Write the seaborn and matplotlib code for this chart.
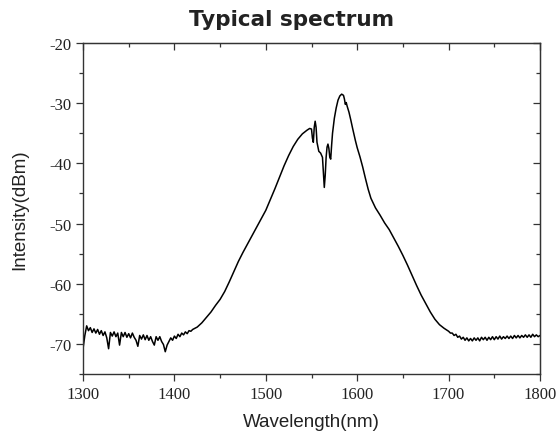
import numpy as np
import pandas as pd
import seaborn as sns
from matplotlib import pyplot as plt
from matplotlib.ticker import MultipleLocator

# 光谱数据
# 左侧噪声基底 1300-1420 nm, 步长 2 nm
wl_left = list(range(1300, 1421, 2))
db_left = [-70.8, -68.6, -67.0, -67.8, -67.3, -68.1, -67.5, -68.2, -67.6, -68.4,
           -67.8, -68.6, -68.0, -69.0, -70.8, -68.1, -68.7, -68.0, -68.8, -68.2,
           -70.2, -68.1, -68.8, -68.1, -68.9, -68.3, -69.0, -68.2, -68.9, -69.4,
           -70.4, -68.6, -69.2, -68.5, -69.3, -68.6, -69.4, -68.8, -69.6, -70.2,
           -68.8, -69.4, -68.8, -69.6, -70.1, -71.3, -70.2, -69.6, -69.0, -69.4,
           -68.7, -69.1, -68.4, -68.8, -68.2, -68.5, -68.0, -68.3, -67.8, -67.9,
           -67.6]

# 主峰部分
wl_mid = [1425, 1430, 1435, 1440, 1445, 1450, 1455, 1460, 1465, 1470,
          1475, 1480, 1485, 1490, 1495, 1500, 1505, 1510, 1515, 1520,
          1525, 1530, 1535, 1540, 1545, 1548, 1550, 1551, 1552, 1553,
          1554, 1555, 1556, 1558, 1560, 1562, 1563, 1564, 1565, 1566,
          1567, 1568, 1569, 1570, 1571, 1572, 1573, 1575, 1577, 1579,
          1581, 1583, 1585, 1586, 1587, 1588, 1589, 1591, 1593, 1595,
          1598, 1600, 1603, 1606, 1609, 1612, 1615, 1620, 1625, 1630,
          1635, 1640, 1645, 1650, 1655, 1660, 1665, 1670, 1675, 1680,
          1685, 1690, 1695]
db_mid = [-67.2, -66.5, -65.6, -64.7, -63.6, -62.6, -61.3, -59.7, -58.0, -56.3,
          -54.8, -53.4, -52.0, -50.6, -49.2, -47.8, -46.0, -44.2, -42.3, -40.4,
          -38.7, -37.2, -36.0, -35.1, -34.5, -34.2, -34.3, -35.8, -36.5, -34.0,
          -33.0, -34.0, -36.5, -38.0, -38.3, -39.0, -41.5, -44.0, -42.0, -39.0,
          -37.3, -36.8, -37.5, -39.0, -39.3, -37.0, -35.0, -32.5, -30.8, -29.5,
          -28.8, -28.5, -28.7, -29.3, -30.2, -29.9, -30.5, -31.5, -32.8, -34.2,
          -36.2, -37.4, -38.9, -40.6, -42.5, -44.3, -45.8, -47.4, -48.6, -49.9,
          -51.0, -52.4, -53.8, -55.3, -56.9, -58.6, -60.3, -61.9, -63.3, -64.7,
          -65.9, -66.8, -67.4]

# 右侧噪声基底 1700-1800 nm, 步长 2 nm
wl_right = list(range(1700, 1801, 2))
db_right = [-67.9, -68.2, -68.2, -68.6, -68.4, -68.9, -68.7, -69.2, -68.9, -69.4,
            -69.0, -69.5, -69.1, -69.5, -69.0, -69.4, -69.0, -69.5, -68.9, -69.3,
            -68.9, -69.4, -68.9, -69.3, -68.8, -69.3, -68.8, -69.2, -68.7, -69.2,
            -68.8, -69.1, -68.7, -69.1, -68.7, -69.1, -68.6, -69.0, -68.6, -69.0,
            -68.6, -68.9, -68.5, -68.9, -68.5, -68.9, -68.4, -68.8, -68.5, -68.8,
            -68.6]

x_ticks = [1300, 1400, 1500, 1600, 1700, 1800]
y_ticks = [-70, -60, -50, -40, -30, -20]

data = pd.DataFrame({'wavelength': wl_left + wl_mid + wl_right,
                     'intensity': db_left + db_mid + db_right})

sns.set_style('ticks')
plt.rcParams['axes.unicode_minus'] = False
fig = plt.figure(figsize=(5.59, 4.39), dpi=100)
ax = fig.add_axes([0.1485, 0.1458, 0.8175, 0.754])

sns.lineplot(data=data, x='wavelength', y='intensity', color='black', lw=1.1,
             estimator=None, sort=False, ax=ax)

ax.set_xlim(1300, 1800)
ax.set_ylim(-75, -20)
ax.set_xticks(x_ticks)
ax.set_yticks(y_ticks)
ax.xaxis.set_minor_locator(MultipleLocator(50))
ax.yaxis.set_minor_locator(MultipleLocator(5))
ax.tick_params(which='major', direction='out', length=5, width=0.9, color='#333333')
ax.tick_params(which='minor', direction='out', length=3, width=0.9, color='#333333')
for lab in ax.get_xticklabels() + ax.get_yticklabels():
    lab.set_fontfamily('Liberation Serif')
    lab.set_fontsize(12)
    lab.set_color('#222222')
for s in ax.spines.values():
    s.set_visible(True)
    s.set_linewidth(1.0)
    s.set_color('#333333')

# 上、右两边的刻度向内
top = ax.secondary_xaxis('top')
top.set_xticks(x_ticks)
top.xaxis.set_minor_locator(MultipleLocator(50))
top.tick_params(which='major', direction='in', length=5, width=0.9, color='#333333', labeltop=False)
top.tick_params(which='minor', direction='in', length=3, width=0.9, color='#333333')
right = ax.secondary_yaxis('right')
right.set_yticks(y_ticks)
right.yaxis.set_minor_locator(MultipleLocator(5))
right.tick_params(which='major', direction='in', length=5, width=0.9, color='#333333', labelright=False)
right.tick_params(which='minor', direction='in', length=3, width=0.9, color='#333333')

ax.set_xlabel('Wavelength(nm)', fontdict={'family': 'Liberation Sans', 'size': 13.5}, color='#222222', labelpad=8)
ax.set_ylabel('Intensity(dBm)', fontdict={'family': 'Liberation Sans', 'size': 13.5}, color='#222222', labelpad=15)
fig.text(292 / 559, 1 - 20 / 439, 'Typical spectrum', ha='center', va='center',
         fontfamily='DejaVu Sans', fontweight='bold', fontsize=15.5, color='#222222')

plt.savefig('out.png', dpi=100)
